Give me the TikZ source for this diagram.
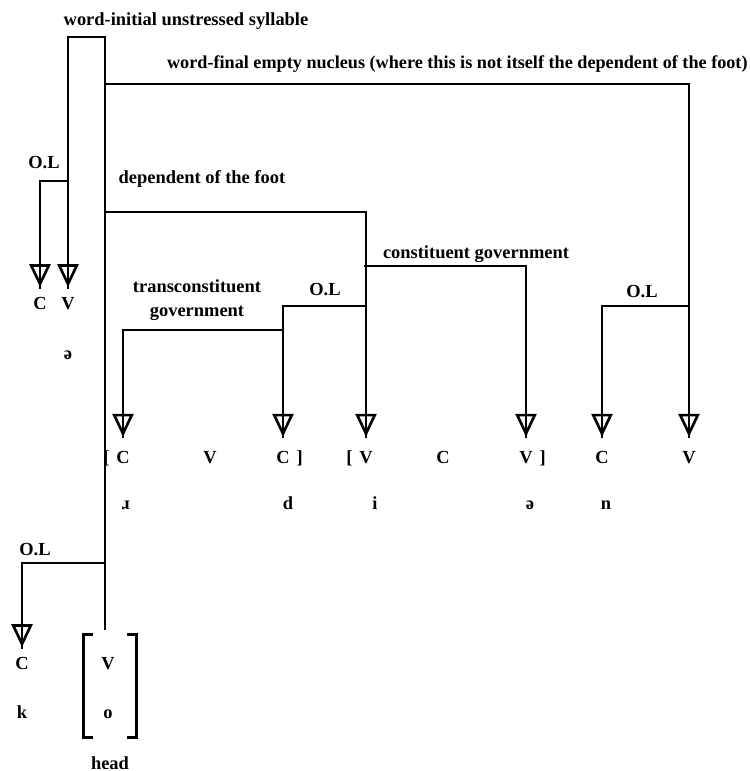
\documentclass[tikz,border=0pt]{standalone}
\usepackage{fontspec}
\setmainfont{Liberation Serif}
\usetikzlibrary{positioning, arrows.meta, decorations.markings}
\tikzstyle{tag} = [inner sep=1pt]
\tikzstyle{seg} = [inner xsep=1pt, inner ysep=0pt, text height=7pt, text depth=0pt, outer ysep=5.5pt]
\tikzstyle{rowseg} = [seg, outer ysep=8pt]
\tikzstyle{bra} = [inner sep=0pt]
\tikzstyle{mel} = [inner sep=0pt, text height=7pt, text depth=0pt]
\tikzstyle{stem} = [line width=1.5pt, line cap=rect]
\tikzstyle{govarrow} = [
line width=1.5pt,
line cap=rect,
decoration={
	markings,
	mark=at position 1 with {\arrow{Triangle[open, length=0.46cm, width=0.42cm]}}
},
postaction={decorate}
]

\begin{document}
\begin{tikzpicture}[x=0.02cm, y=-0.02cm, font=\fontsize{10.5}{12.6}\selectfont\bfseries]
		\useasboundingbox (0,0) rectangle (750,771);
		
		% domain labels
		\node[tag] (initial) at (186,21) {word-initial unstressed syllable};
		\node[tag, anchor=west, font=\fontsize{10.35}{12}\selectfont\bfseries] (final) at (165,64) {word-final empty nucleus (where this is not itself the dependent of the foot)};
		\node[tag] (foot) at (202,179) {dependent of the foot};
		\node[tag] (congov) at (476,254) {constituent government};
		\node[tag, align=center] (transgov) at (197,300) {transconstituent\\[1pt]government};
		\node[tag] (ola) at (44,163) {O.L};
		\node[tag] (olb) at (325,290) {O.L};
		\node[tag] (olc) at (642,292) {O.L};
		\node[tag] (old) at (35,550) {O.L};
		
		% junctions
		\coordinate (top) at (105,37);
		\coordinate (hook) at (105,629);
		\coordinate (ja) at (68,181);
		\coordinate (jb) at (105,84);
		\coordinate (jc) at (105,212);
		\coordinate (jd) at (365,266);
		\coordinate (je) at (365,306);
		\coordinate (jf) at (283,330);
		\coordinate (jg) at (689,306);
		\coordinate (jh) at (105,563);
		
		% initial syllable
		\node[seg] (onsa) at (40,303) {C};
		\node[seg] (nuca) at (68,303) {V};
		\node[mel, below of=nuca, node distance=1cm] (mela) {ə};
		
		% skeleton
		\node[rowseg] (onsb) at (123,457) {C};
		\node[bra, base left=2.5pt of onsb] (lbra) {[};
		\node[rowseg] (nucb) at (210,457) {V};
		\node[rowseg] (onsc) at (283,457) {C};
		\node[bra, base right=2.5pt of onsc] (rbra) {]};
		\node[rowseg] (nucc) at (366,457) {V};
		\node[bra, base left=2.5pt of nucc] (lbrb) {[};
		\node[rowseg] (onsd) at (443,457) {C};
		\node[rowseg] (nucd) at (526,457) {V};
		\node[bra, base right=2.5pt of nucd] (rbrb) {]};
		\node[rowseg] (onse) at (602,457) {C};
		\node[rowseg] (nuce) at (689,457) {V};
		
		% melody
		\node[mel, below of=onsb, node distance=0.92cm, xshift=0.06cm] (melb) {ɹ};
		\node[mel, below of=onsc, node distance=0.92cm, xshift=0.1cm] (melc) {d};
		\node[mel, below of=nucc, node distance=0.92cm, xshift=0.18cm] (meld) {i};
		\node[mel, below of=nucd, node distance=0.92cm, xshift=0.08cm] (mele) {ə};
		\node[mel, below of=onse, node distance=0.92cm, xshift=0.08cm] (melf) {n};
		
		% head
		\node[seg] (onsf) at (22,663) {C};
		\node[mel, below of=onsf, node distance=0.98cm] (melg) {k};
		\node[seg] (nucf) at (108,663) {V};
		\node[mel, below of=nucf, node distance=0.98cm] (melh) {o};
		\node[minimum width=1.04cm, minimum height=2.04cm, inner sep=0pt] (headbox) at (110,686) {};
		\node[tag, below of=headbox, node distance=1.54cm] (head) {head};
		\draw[stem] ([xshift=0.16cm]headbox.north west) -- (headbox.north west) -- (headbox.south west) -- ++(8,0);
		\draw[stem] ([xshift=-0.16cm]headbox.north east) -- (headbox.north east) -- (headbox.south east) -- ++(-8,0);
		
		% connections
		\draw[stem] (top) -- (hook);
		\draw[govarrow] (top) -| (nuca.north);
		\draw[govarrow] (ja) -| (onsa.north);
		\draw[govarrow] (jb) -| (nuce.north);
		\draw[govarrow] (jg) -| (onse.north);
		\draw[govarrow] (jc) -| (nucc.north);
		\draw[govarrow] (jd) -| (nucd.north);
		\draw[govarrow] (je) -| (onsc.north);
		\draw[govarrow] (jf) -| (onsb.north);
		\draw[govarrow] (jh) -| (onsf.north);
		
	\end{tikzpicture}
\end{document}
